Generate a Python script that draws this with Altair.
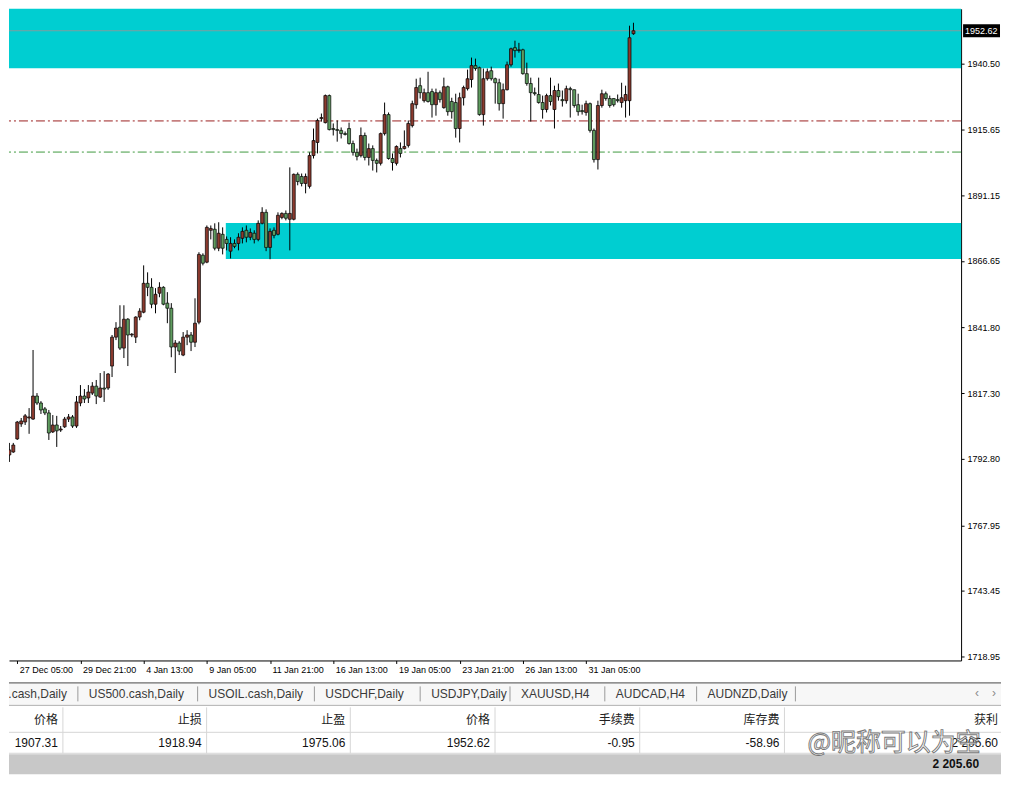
import altair as alt
import pandas as pd

# ---------------- data ----------------
OPEN = [1794.2,1795.3,1800.2,1805.8,1806.5,1808.0,1807.6,1816.2,1813.6,1811.4,
        1809.9,1802.8,1805.4,1803.5,1804.7,1807.6,1808.4,1805.0,1813.6,1816.2,
        1815.5,1817.3,1819.9,1815.8,1819.2,1819.2,1827.4,1838.2,1841.9,1834.1,
        1844.9,1839.0,1838.2,1845.7,1847.5,1858.3,1856.8,1850.5,1854.6,1856.8,
        1850.9,1849.0,1834.5,1836.0,1831.5,1838.2,1839.0,1836.3,1843.8,1868.8,
        1866.2,1878.1,1878.5,1871.4,1876.6,1874.7,1870.3,1873.2,1873.2,1875.1,
        1878.1,1875.5,1877.0,1874.7,1880.7,1884.8,1871.7,1878.1,1876.6,1882.9,
        1884.4,1882.2,1882.2,1899.0,1898.2,1895.6,1894.5,1906.0,1910.9,1919.8,
        1918.3,1928.4,1916.1,1915.7,1915.4,1914.2,1916.1,1910.5,1907.2,1906.0,
        1913.5,1905.3,1908.6,1904.2,1903.1,1914.2,1921.3,1904.9,1903.1,1908.6,
        1908.6,1909.8,1917.2,1925.0,1932.1,1926.5,1929.5,1929.9,1925.0,1929.5,
        1923.9,1931.7,1926.2,1925.8,1916.1,1927.6,1931.0,1934.4,1939.6,1938.8,
        1921.3,1934.7,1937.7,1934.7,1933.2,1925.4,1930.6,1939.9,1946.3,1945.2,
        1945.5,1936.6,1932.9,1929.5,1928.8,1925.8,1923.2,1928.4,1923.2,1930.3,
        1926.9,1926.5,1931.0,1930.6,1925.0,1922.8,1922.1,1925.4,1915.4,1904.5,
        1924.7,1929.1,1927.3,1927.3,1926.9,1925.8,1926.5,1926.5,1951.5]
HIGH = [1798.7,1798.7,1806.9,1808.0,1809.5,1811.7,1833.4,1817.3,1814.3,1812.1,
        1811.0,1809.1,1808.8,1805.0,1808.4,1809.5,1809.1,1816.2,1820.3,1818.8,
        1820.3,1821.4,1822.2,1824.8,1825.5,1824.8,1839.0,1843.8,1850.1,1850.1,
        1845.3,1839.7,1846.0,1849.0,1865.0,1862.4,1860.2,1856.5,1858.7,1857.2,
        1855.0,1850.9,1837.1,1836.7,1840.1,1840.8,1840.1,1852.7,1869.9,1869.5,
        1879.9,1879.9,1880.7,1881.1,1879.2,1875.8,1875.5,1874.7,1877.0,1879.2,
        1879.9,1878.8,1878.1,1881.8,1886.7,1885.9,1878.8,1879.2,1884.8,1884.8,
        1885.5,1901.6,1899.3,1899.7,1899.3,1899.3,1907.2,1916.1,1919.8,1921.7,
        1928.8,1928.8,1918.0,1919.1,1916.5,1915.0,1918.3,1911.6,1908.6,1916.5,
        1914.6,1910.5,1909.8,1904.9,1914.6,1925.8,1922.1,1906.8,1909.8,1910.9,
        1915.4,1919.1,1926.5,1934.7,1935.1,1931.0,1937.3,1931.0,1931.0,1930.3,
        1935.1,1932.1,1927.6,1929.1,1929.5,1932.1,1938.1,1942.6,1942.2,1939.2,
        1938.5,1938.5,1939.2,1935.1,1934.7,1932.9,1941.1,1946.3,1948.9,1948.1,
        1945.9,1940.7,1935.1,1931.4,1935.1,1928.4,1929.1,1935.1,1932.1,1932.9,
        1930.3,1932.1,1931.7,1930.6,1929.1,1925.0,1926.5,1925.8,1916.1,1926.5,
        1930.6,1929.9,1928.4,1927.3,1928.8,1933.2,1932.1,1954.5,1955.6]
LOW = [1791.6,1795.0,1799.8,1804.7,1805.4,1802.1,1807.3,1812.9,1809.5,1809.1,
       1799.8,1802.4,1797.2,1802.8,1804.3,1806.5,1804.3,1804.3,1812.4,1813.6,
       1813.6,1816.6,1813.2,1815.5,1814.0,1818.5,1823.3,1837.1,1833.4,1830.4,
       1827.4,1838.2,1836.0,1844.5,1847.1,1853.5,1849.0,1847.1,1853.1,1850.1,
       1843.4,1830.7,1824.8,1831.5,1831.1,1835.2,1833.0,1834.5,1843.0,1865.0,
       1865.8,1874.7,1870.6,1870.3,1869.1,1870.6,1867.6,1871.4,1870.6,1873.2,
       1873.6,1874.4,1873.2,1874.0,1880.3,1870.3,1867.3,1875.1,1876.2,1882.2,
       1881.8,1870.6,1881.8,1894.9,1894.5,1891.9,1893.7,1904.9,1906.8,1918.7,
       1918.0,1915.4,1913.5,1911.2,1912.4,1913.5,1910.1,1906.0,1904.2,1905.3,
       1904.2,1902.3,1900.4,1899.7,1902.3,1913.5,1904.5,1900.4,1902.3,1905.3,
       1908.3,1909.0,1916.5,1923.5,1927.3,1925.8,1925.8,1920.2,1920.9,1925.8,
       1923.5,1920.9,1919.8,1912.7,1910.9,1924.7,1930.3,1931.4,1937.7,1920.9,
       1917.2,1934.0,1934.0,1925.4,1922.8,1919.8,1930.3,1939.2,1942.6,1944.4,
       1936.2,1932.1,1918.7,1928.4,1925.4,1919.8,1922.1,1924.7,1916.1,1926.5,
       1924.3,1925.4,1920.2,1923.9,1920.9,1921.3,1920.9,1914.6,1903.4,1900.8,
       1923.9,1926.5,1923.9,1924.3,1925.8,1923.9,1920.2,1920.9,1951.1]
CLOSE = [1796.1,1797.9,1806.5,1806.9,1808.8,1808.4,1816.2,1813.6,1811.0,1809.9,
         1802.4,1805.4,1803.2,1803.9,1807.6,1808.4,1805.0,1814.0,1816.2,1815.1,
         1817.7,1819.9,1816.2,1819.2,1818.8,1824.4,1838.2,1841.6,1834.1,1844.9,
         1839.0,1839.3,1845.7,1847.9,1858.3,1856.8,1850.5,1854.2,1856.8,1850.5,
         1849.0,1834.5,1836.0,1833.0,1838.2,1839.0,1836.3,1843.4,1869.1,1865.8,
         1879.2,1878.8,1871.4,1877.0,1871.4,1873.2,1873.2,1872.1,1875.5,1877.7,
         1875.5,1877.3,1874.7,1880.7,1884.8,1871.7,1877.7,1876.2,1883.7,1884.4,
         1882.6,1884.4,1899.0,1896.3,1895.6,1898.2,1906.0,1911.6,1919.1,1920.2,
         1928.4,1915.7,1915.7,1915.4,1914.2,1913.9,1910.5,1907.2,1905.7,1913.5,
         1905.3,1908.6,1904.2,1903.1,1914.2,1921.3,1904.9,1903.4,1909.4,1906.8,
         1909.4,1918.0,1925.4,1931.4,1929.5,1929.5,1926.2,1925.0,1929.5,1926.9,
         1931.7,1922.4,1922.4,1916.1,1927.6,1931.4,1934.7,1939.6,1938.5,1921.3,
         1934.7,1937.3,1934.7,1933.2,1925.4,1930.6,1939.9,1945.9,1945.2,1945.5,
         1936.6,1932.9,1929.5,1929.1,1925.8,1923.2,1928.4,1926.2,1930.3,1928.0,
         1926.5,1931.0,1930.6,1924.7,1922.4,1922.4,1925.4,1915.4,1904.5,1924.7,
         1929.1,1927.3,1924.7,1925.0,1926.5,1927.6,1928.8,1950.0,1952.62]
BAR = list(range(1, len(OPEN) + 1))

TIME_LABEL_BARS = [3, 19, 35, 51, 67, 83, 99, 115, 131, 147]
TIME_LABELS = ["27 Dec 05:00", "29 Dec 21:00", "4 Jan 13:00", "9 Jan 05:00",
               "11 Jan 21:00", "16 Jan 13:00", "19 Jan 05:00", "23 Jan 21:00",
               "26 Jan 13:00", "31 Jan 05:00"]
PRICE_TICKS = [1718.95, 1731.20, 1743.45, 1755.70, 1767.95, 1780.20, 1792.80,
               1805.05, 1817.30, 1829.55, 1841.80, 1854.05, 1866.65, 1878.90,
               1891.15, 1903.40, 1915.65, 1927.90, 1940.50]

CURRENT_PRICE = 1952.62
LEVEL_NAMES = ["stop", "entry", "bid"]
LEVEL_PRICES = [1918.94, 1907.31, 1952.62]

ZONE_START_BAR = [-20, 55.8]
ZONE_END_BAR = [300, 300]
ZONE_LOW = [1938.6, 1867.4]
ZONE_HIGH = [1975.0, 1880.8]

TAB_NAMES = ["US30.cash,Daily", "US500.cash,Daily", "USOIL.cash,Daily",
             "USDCHF,Daily", "USDJPY,Daily", "XAUUSD,H4", "AUDCAD,H4",
             "AUDNZD,Daily"]
HEADERS = ["价格", "止损", "止盈", "价格", "手续费", "库存费", "获利"]
ROW_VALUES = ["1907.31", "1918.94", "1975.06", "1952.62", "-0.95", "-58.96",
              "2 205.60"]
TOTAL_PROFIT = "2 205.60"
WATERMARK = "@昵称可以为空"

# ---------------- layout / style ----------------
W1, H1 = 954, 653
X_DOMAIN = [2.175, 240.675]
Y_DOMAIN = [1717.46, 1960.82]
CYAN = "#00CED1"
UP = "#8B3A2E"
DOWN = "#5F9C5F"
FONT = "Liberation Sans"
CJK = "Noto Sans CJK SC"

xs = alt.Scale(domain=X_DOMAIN, nice=False, zero=False)
ys = alt.Scale(domain=Y_DOMAIN, nice=False, zero=False)

lab_js = "[" + ",".join("'%s'" % t for t in TIME_LABELS) + "]"
bar_js = "[" + ",".join(str(b) for b in TIME_LABEL_BARS) + "]"

x_axis = alt.Axis(values=TIME_LABEL_BARS,
                  labelExpr="%s[indexof(%s, datum.value)]" % (lab_js, bar_js),
                  labelAlign="left", labelFont=FONT, labelFontSize=9,
                  labelColor="black", tickSize=3, tickColor="black",
                  domainColor="black", domainWidth=1, labelPadding=2,
                  labelOffset=2, grid=False, title=None,
                  minExtent=21, maxExtent=21, labelFlush=False,
                  labelOverlap=False)
y_axis = alt.Axis(values=PRICE_TICKS, format=".2f", orient="right",
                  labelFont=FONT, labelFontSize=9, labelColor="black",
                  tickSize=3, tickColor="black", domainColor="black",
                  domainWidth=1, labelPadding=3, grid=False, title=None,
                  labelOverlap=False, labelFlush=False)

candles = pd.DataFrame({"bar": BAR, "open": OPEN, "high": HIGH,
                        "low": LOW, "close": CLOSE})
zones = pd.DataFrame({"x0": ZONE_START_BAR, "x1": ZONE_END_BAR,
                      "lo": ZONE_LOW, "hi": ZONE_HIGH})
levels = pd.DataFrame({"name": LEVEL_NAMES, "price": LEVEL_PRICES})

zone_layer = alt.Chart(zones).mark_rect(color=CYAN, clip=True).encode(
    x=alt.X("x0:Q", scale=xs, axis=x_axis),
    x2="x1:Q",
    y=alt.Y("lo:Q", scale=ys, axis=y_axis),
    y2="hi:Q")

bid_line = alt.Chart(levels).transform_filter("datum.name == 'bid'").mark_rule(
    color="#7f9f9f", strokeWidth=1).encode(y=alt.Y("price:Q", scale=ys))
stop_line = alt.Chart(levels).transform_filter("datum.name == 'stop'").mark_rule(
    color="#9B2020", strokeWidth=1, strokeDash=[9, 3, 2, 3]).encode(
    y=alt.Y("price:Q", scale=ys))
entry_line = alt.Chart(levels).transform_filter("datum.name == 'entry'").mark_rule(
    color="#3E9A3E", strokeWidth=1, strokeDash=[9, 3, 2, 3]).encode(
    y=alt.Y("price:Q", scale=ys))

wicks = alt.Chart(candles).mark_rule(color="black", strokeWidth=1, clip=True).encode(
    x=alt.X("bar:Q", scale=xs),
    y=alt.Y("low:Q", scale=ys),
    y2="high:Q")
bodies = alt.Chart(candles).mark_bar(size=3, stroke="black", strokeWidth=0.7,
                                     clip=True).encode(
    x=alt.X("bar:Q", scale=xs),
    y=alt.Y("open:Q", scale=ys),
    y2="close:Q",
    color=alt.condition("datum.close >= datum.open", alt.value(UP), alt.value(DOWN)))

bid_df = pd.DataFrame({"price": [CURRENT_PRICE]})
bid_box = alt.Chart(bid_df).transform_calculate(
    lo="datum.price - 2.4", hi="datum.price + 2.4").mark_rect(color="black").encode(
    x=alt.value(W1 + 2), x2=alt.value(W1 + 39),
    y=alt.Y("lo:Q", scale=ys), y2="hi:Q")
bid_text = alt.Chart(bid_df).mark_text(align="left", baseline="middle", font=FONT,
                                       fontSize=9, color="white").encode(
    x=alt.value(W1 + 4), y=alt.Y("price:Q", scale=ys),
    text=alt.Text("price:Q", format=".2f"))

chart1 = alt.layer(zone_layer, bid_line, stop_line, entry_line, wicks, bodies,
                   bid_box, bid_text).properties(width=W1, height=H1)

# ---------------- terminal panel below the chart ----------------
W2, H2 = 994, 98
px = alt.Scale(domain=[0, W2], nice=False, zero=False)
py = alt.Scale(domain=[0, H2], nice=False, zero=False, reverse=True)

TAB_SEP_X = [69, 189, 306, 412, 502, 597, 689, 788]
tab_text_x = [TAB_SEP_X[0] - 11] + [s + 11 for s in TAB_SEP_X[:-1]]
tabs = pd.DataFrame({"x": tab_text_x, "y": [12] * len(TAB_NAMES),
                     "text": TAB_NAMES})
seps = pd.DataFrame({"x": TAB_SEP_X, "y0": [4] * 8, "y1": [19] * 8})

COL_RIGHT = [54, 198, 342, 487, 632, 777, W2]
col_text_x = [c - 5 for c in COL_RIGHT]
col_text_x[-1] = 991
head = pd.DataFrame({"x": col_text_x, "y": [38] * 7, "text": HEADERS})
vals = pd.DataFrame({"x": col_text_x, "y": [61] * 7, "text": ROW_VALUES})
colsep = pd.DataFrame({"x": COL_RIGHT[:-1], "y0": [25] * 6, "y1": [71] * 6})

bands = pd.DataFrame({"x0": [0, 0, 0], "x1": [W2, W2, W2],
                      "y0": [0, 24, 72], "y1": [23, 71, 92],
                      "fill": ["#F7F7F7", "#FFFFFF", "#C8C8C8"]})
hlines = pd.DataFrame({"x0": [0, 0, 0, 0], "x1": [W2] * 4,
                       "y": [0.5, 23, 50, 71],
                       "c": ["#4a4a4a", "#b0b0b0", "#d6d6d6", "#d6d6d6"]})

band_layer = alt.Chart(bands).mark_rect().encode(
    x=alt.X("x0:Q", scale=px, axis=None), x2="x1:Q",
    y=alt.Y("y0:Q", scale=py, axis=None), y2="y1:Q",
    color=alt.Color("fill:N", scale=None))
hline_layer = alt.Chart(hlines).mark_rule(strokeWidth=1).encode(
    x=alt.X("x0:Q", scale=px), x2="x1:Q",
    y=alt.Y("y:Q", scale=py), color=alt.Color("c:N", scale=None))
sep_layer = alt.Chart(seps).mark_rule(color="#9a9a9a").encode(
    x=alt.X("x:Q", scale=px), y=alt.Y("y0:Q", scale=py), y2="y1:Q")
colsep_layer = alt.Chart(colsep).mark_rule(color="#d6d6d6").encode(
    x=alt.X("x:Q", scale=px), y=alt.Y("y0:Q", scale=py), y2="y1:Q")

tab_first = alt.Chart(tabs.iloc[:1]).mark_text(
    align="right", baseline="middle", font=FONT, fontSize=12, color="#3a3a3a",
    clip=True).encode(
    x=alt.X("x:Q", scale=px), y=alt.Y("y:Q", scale=py), text="text:N")
tab_rest = alt.Chart(tabs.iloc[1:]).mark_text(
    align="left", baseline="middle", font=FONT, fontSize=12, color="#3a3a3a").encode(
    x=alt.X("x:Q", scale=px), y=alt.Y("y:Q", scale=py), text="text:N")
arrows = alt.Chart(pd.DataFrame({"x": [970, 987], "y": [11, 11], "t": ["‹", "›"]})).mark_text(
    baseline="middle", font=FONT, fontSize=12, color="#8a8a8a").encode(
    x=alt.X("x:Q", scale=px), y=alt.Y("y:Q", scale=py), text="t:N")

head_layer = alt.Chart(head).mark_text(
    align="right", baseline="middle", font=CJK, fontSize=12, color="#222").encode(
    x=alt.X("x:Q", scale=px), y=alt.Y("y:Q", scale=py), text="text:N")
val_layer = alt.Chart(vals).mark_text(
    align="right", baseline="middle", font=FONT, fontSize=12, color="#111").encode(
    x=alt.X("x:Q", scale=px), y=alt.Y("y:Q", scale=py), text="text:N")
total_layer = alt.Chart(pd.DataFrame({"x": [972], "y": [82], "text": [TOTAL_PROFIT]})).mark_text(
    align="right", baseline="middle", font=FONT, fontSize=12, fontWeight="bold",
    color="#111").encode(
    x=alt.X("x:Q", scale=px), y=alt.Y("y:Q", scale=py), text="text:N")
wm_layer = alt.Chart(pd.DataFrame({"x": [800], "y": [61], "text": [WATERMARK]})).mark_text(
    align="left", baseline="middle", font=CJK, fontSize=25, color="white",
    stroke="#6a6a6a", strokeWidth=0.9, opacity=0.9).encode(
    x=alt.X("x:Q", scale=px), y=alt.Y("y:Q", scale=py), text="text:N")

chart2 = alt.layer(band_layer, hline_layer, sep_layer, colsep_layer, tab_first,
                   tab_rest, arrows, head_layer, val_layer, total_layer,
                   wm_layer).properties(width=W2, height=H2)

chart = alt.vconcat(chart1, chart2, spacing=0).properties(
    padding=0, background="white").configure_view(stroke=None)

chart.save("out.html", embed_options={"renderer": "svg", "actions": False})
